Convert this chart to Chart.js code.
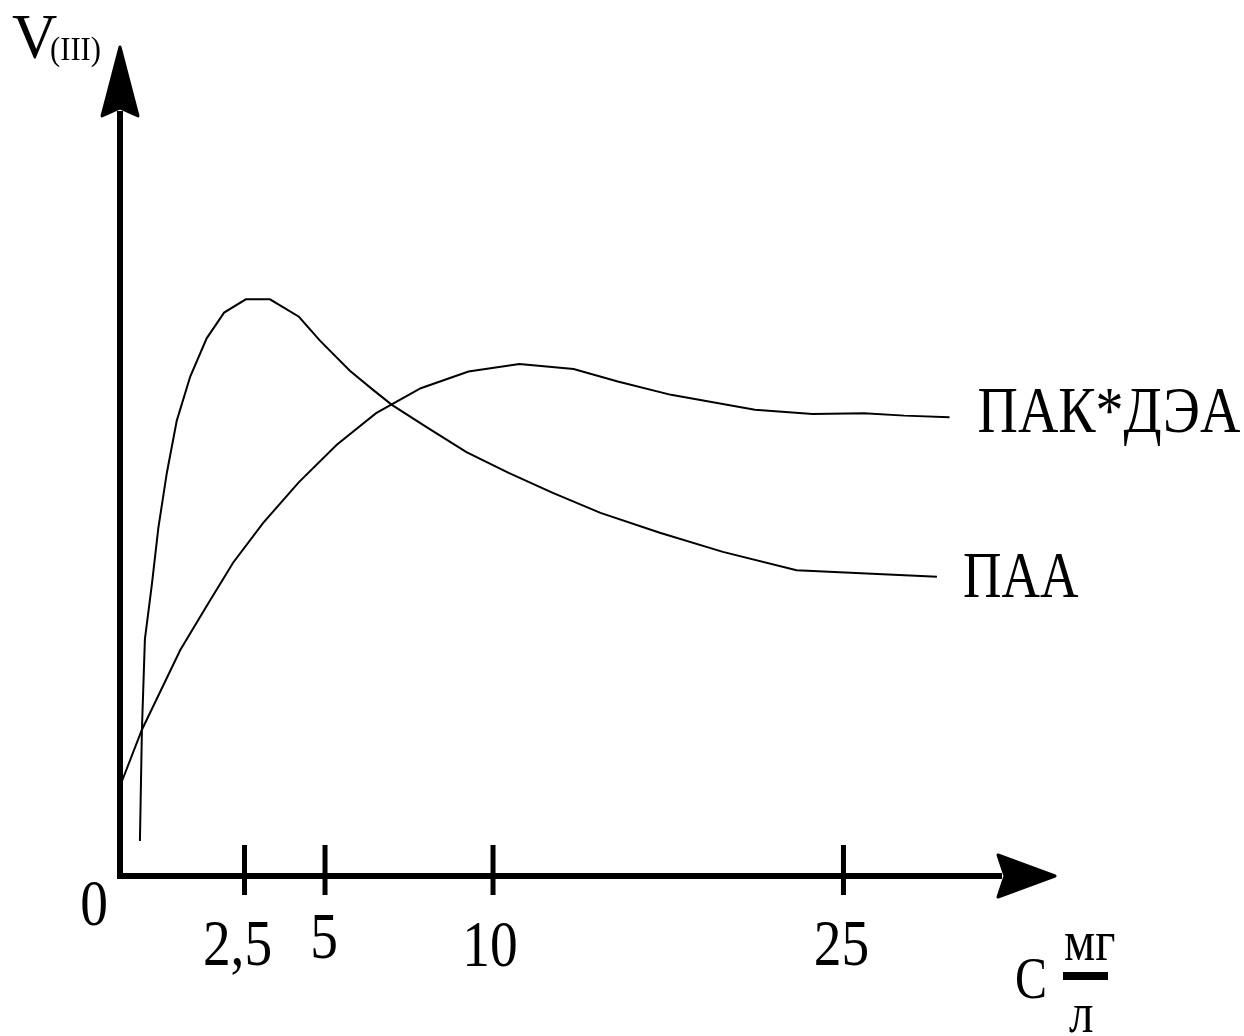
<!DOCTYPE html>
<html>
<head>
<meta charset="utf-8">
<title>V(III) – C</title>
<script src="https://cdn.jsdelivr.net/npm/chart.js@4.4.1/dist/chart.umd.min.js"></script>
<style>
  html, body { margin: 0; padding: 0; background: #ffffff; }
  #wrap { width: 1244px; height: 1036px; }
</style>
</head>
<body>
<div id="wrap"><canvas id="chart" width="1244" height="1036"></canvas></div>
<script>
// Concentration ticks on the C axis (mg/l) and their printed labels
const tickValues = [0, 2.5, 5, 10, 25];
const tickLabels = ['0', '2,5', '5', '10', '25'];

// Series names
const seriesNames = ['ПАА', 'ПАК*ДЭА'];

// ПАА: concentration (mg/l) and rate V(III), relative units
const concPAA = [0.40, 0.44, 0.50, 0.64, 0.77, 0.94, 1.14, 1.41, 1.74, 2.09, 2.54, 3.29, 4.19, 4.85,
                 5.74, 6.43, 6.99, 8.07, 9.21, 10.67, 12.56, 14.60, 17.14, 19.84, 22.99, 28.94];
const ratePAA = [4.2, 17.6, 28.5, 35.1, 41.9, 48.5, 54.8, 60.1, 64.7, 67.8, 69.4, 69.4, 67.3, 64.4,
                 60.8, 58.5, 56.7, 53.9, 51.0, 48.5, 46.1, 43.7, 41.3, 39.0, 36.8, 36.0];

// ПАК*ДЭА: concentration (mg/l) and rate V(III), relative units
const concPAK = [0, 0.44, 1.21, 1.74, 2.27, 3.08, 4.19, 5.35, 6.52, 7.85, 9.27, 11.13, 13.45,
                 15.34, 17.62, 21.21, 23.68, 25.86, 27.57, 29.47];
const ratePAK = [10.8, 17.6, 27.2, 32.5, 37.7, 42.5, 47.4, 51.9, 55.7, 58.7, 60.7, 61.6, 61.0,
                 59.5, 57.9, 56.1, 55.6, 55.7, 55.4, 55.2];

// Schematic (non-proportional) concentration axis: piecewise linear between breakpoints
const LinearScale = Chart.LinearScale || Chart.registry.getScale('linear');
class SchematicScale extends LinearScale {
  _bp() { return this.options.breakpoints; }
  getPixelForValue(value) {
    if (value === null || value === undefined || isNaN(value)) return NaN;
    const bp = this._bp();
    let i = 0;
    while (i < bp.length - 2 && value > bp[i + 1][0]) i++;
    const [v0, f0] = bp[i], [v1, f1] = bp[i + 1];
    const frac = f0 + (value - v0) / (v1 - v0) * (f1 - f0);
    return this.getPixelForDecimal(frac);
  }
  getValueForPixel(pixel) {
    const frac = this.getDecimalForPixel(pixel);
    const bp = this._bp();
    let i = 0;
    while (i < bp.length - 2 && frac > bp[i + 1][1]) i++;
    const [v0, f0] = bp[i], [v1, f1] = bp[i + 1];
    return v0 + (frac - f0) / (f1 - f0) * (v1 - v0);
  }
}
SchematicScale.id = 'schematic';
SchematicScale.defaults = LinearScale.defaults;
Chart.register(SchematicScale);

const SERIF = '"Liberation Serif", "Times New Roman", serif';

function squishText(ctx, str, x, y, size, align, sx) {
  ctx.save();
  ctx.font = size + 'px ' + SERIF;
  ctx.textBaseline = 'alphabetic';
  ctx.textAlign = 'left';
  const w = ctx.measureText(str).width * sx;
  const left = align === 'center' ? x - w / 2 : x;
  ctx.translate(left, y);
  ctx.scale(sx, 1);
  ctx.fillText(str, 0, 0);
  ctx.restore();
}

// Axes with arrowheads, tick marks and all annotation text
const axesPlugin = {
  id: 'schemeAxes',
  afterDatasetsDraw(chart, args, opts) {
    const ctx = chart.ctx;
    const xs = chart.scales.x, ys = chart.scales.y;
    const x0 = xs.getPixelForValue(0), y0 = ys.getPixelForValue(0);
    const xEnd = xs.right, yTop = ys.top;
    ctx.save();
    ctx.fillStyle = '#000';
    ctx.strokeStyle = '#000';

    // axis lines
    ctx.lineWidth = 6;
    ctx.lineCap = 'butt';
    ctx.beginPath();
    ctx.moveTo(x0, y0 + 3);
    ctx.lineTo(x0, yTop + 66);
    ctx.moveTo(x0 - 3, y0);
    ctx.lineTo(xEnd - 55, y0);
    ctx.stroke();

    // arrowheads
    ctx.lineWidth = 3;
    ctx.lineJoin = 'round';
    ctx.beginPath();
    ctx.moveTo(x0, yTop + 2);
    ctx.lineTo(x0 + 18, yTop + 71);
    ctx.lineTo(x0, yTop + 63);
    ctx.lineTo(x0 - 18, yTop + 71);
    ctx.closePath();
    ctx.fill(); ctx.stroke();

    ctx.beginPath();
    ctx.moveTo(xEnd - 2, y0);
    ctx.lineTo(xEnd - 59, y0 - 21);
    ctx.lineTo(xEnd - 52, y0);
    ctx.lineTo(xEnd - 59, y0 + 21);
    ctx.closePath();
    ctx.fill(); ctx.stroke();

    // tick marks
    ctx.lineWidth = 5;
    tickValues.forEach((v) => {
      if (v === 0) return;
      const px = xs.getPixelForValue(v);
      ctx.beginPath();
      ctx.moveTo(px, y0 - 31);
      ctx.lineTo(px, y0 + 19);
      ctx.stroke();
    });

    // tick labels
    const st = opts.tickLabelStyle;
    tickLabels.forEach((t, i) => {
      const px = xs.getPixelForValue(tickValues[i]) + st.shift[i];
      squishText(ctx, t, px, y0 + st.drop[i], st.size, 'center', st.squeeze);
    });

    // axis titles
    squishText(ctx, 'V', 12, 58, 64, 'left', 0.98);
    squishText(ctx, '(III)', 50, 60, 34, 'left', 0.9);
    squishText(ctx, 'C', 1015, 998, 60, 'left', 0.8);
    squishText(ctx, 'мг', 1064, 960, 56, 'left', 0.88);
    ctx.fillRect(1063, 972, 45, 8);
    squishText(ctx, 'л', 1069, 1032, 56, 'left', 0.88);

    // curve names next to the last point of each curve
    chart.data.datasets.forEach((ds, i) => {
      const meta = chart.getDatasetMeta(i);
      const last = meta.data[meta.data.length - 1];
      const nm = opts.names[i];
      squishText(ctx, ds.label, last.x + nm.dx, last.y + nm.dy, 65, 'left', nm.squeeze);
    });
    ctx.restore();
  }
};

const toPoints = (xs, ys) => xs.map((x, i) => ({ x: x, y: ys[i] }));

new Chart(document.getElementById('chart'), {
  type: 'line',
  data: {
    datasets: [
      { label: seriesNames[0], data: toPoints(concPAA, ratePAA) },
      { label: seriesNames[1], data: toPoints(concPAK, ratePAK) }
    ]
  },
  options: {
    responsive: false,
    animation: false,
    devicePixelRatio: 1,
    layout: { padding: { left: 120, right: 187, top: 45, bottom: 160 } },
    elements: {
      line: { borderColor: '#000', borderWidth: 2, tension: 0, fill: false },
      point: { radius: 0, hoverRadius: 0 }
    },
    datasets: { line: { clip: false } },
    scales: {
      x: {
        type: 'schematic',
        display: false,
        min: 0,
        max: 34,
        breakpoints: [[0, 0], [2.5, 0.1329], [5, 0.2188], [10, 0.3981], [25, 0.7721], [34, 1]]
      },
      y: { type: 'linear', display: false, min: 0, max: 100 }
    },
    plugins: {
      legend: { display: false },
      tooltip: { enabled: false },
      schemeAxes: {
        tickLabelStyle: {
          size: 66,
          squeeze: 0.84,
          shift: [-26, -7, -1, -3, -2],
          drop: [49, 89, 82, 90, 89]
        },
        names: [
          { dx: 26, dy: 20, squeeze: 0.82 },
          { dx: 28, dy: 15, squeeze: 0.86 }
        ]
      }
    }
  },
  plugins: [axesPlugin]
});
</script>
</body>
</html>
